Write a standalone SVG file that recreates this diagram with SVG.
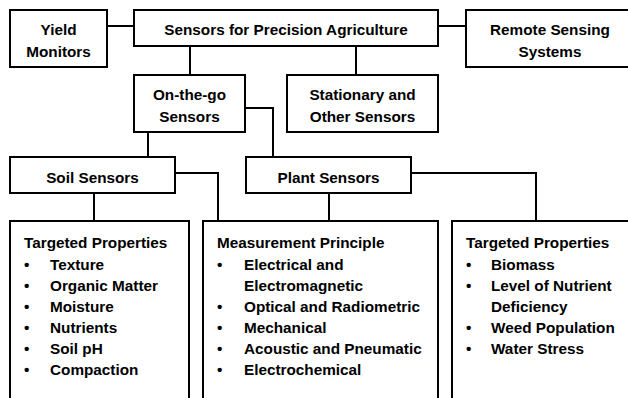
<svg xmlns="http://www.w3.org/2000/svg" width="628" height="398" viewBox="0 0 628 398">
<style>
rect{fill:#fff;stroke:#000;stroke-width:2}
.c{fill:none;stroke:#000;stroke-width:2}
text{font-family:"Liberation Sans",Arial,sans-serif;font-weight:bold;font-size:15.3px;fill:#000}
.m{text-anchor:middle}
</style>
<rect x="0" y="0" width="628" height="398" style="stroke:none"/>
<g id="connectors">
<path class="c" d="M107 26H134M438 26H466M190 46V75M356 46V75M245 108H273V157M148 132V157M175 173H218V221M411 173H536V221M94 193V221M329 193V221"/>
</g>
<g id="yield"><rect x="10" y="10" width="97" height="57"/><text class="m" x="58.5" y="35">Yield</text><text class="m" x="58.5" y="57">Monitors</text></g>
<g id="main"><rect x="134" y="10" width="304" height="36"/><text class="m" x="286" y="35">Sensors for Precision Agriculture</text></g>
<g id="remote"><rect x="466" y="10" width="170" height="57"/><text class="m" x="550" y="35">Remote Sensing</text><text class="m" x="550" y="57">Systems</text></g>
<g id="onthego"><rect x="134" y="75" width="111" height="57"/><text class="m" x="189.5" y="100">On-the-go</text><text class="m" x="189.5" y="122">Sensors</text></g>
<g id="stationary"><rect x="287" y="75" width="151" height="57"/><text class="m" x="362.5" y="100">Stationary and</text><text class="m" x="362.5" y="122">Other Sensors</text></g>
<g id="soil"><rect x="10" y="157" width="165" height="36"/><text class="m" x="92.5" y="183">Soil Sensors</text></g>
<g id="plant"><rect x="246" y="157" width="165" height="36"/><text class="m" x="328.5" y="183">Plant Sensors</text></g>
<g id="soilprops"><rect x="10" y="221" width="179" height="190"/>
<text x="24" y="248">Targeted Properties</text>
<text x="24" y="270">•</text><text x="50" y="270">Texture</text>
<text x="24" y="291">•</text><text x="50" y="291">Organic Matter</text>
<text x="24" y="312">•</text><text x="50" y="312">Moisture</text>
<text x="24" y="333">•</text><text x="50" y="333">Nutrients</text>
<text x="24" y="354">•</text><text x="50" y="354">Soil pH</text>
<text x="24" y="375">•</text><text x="50" y="375">Compaction</text>
</g>
<g id="measurement"><rect x="203" y="221" width="235" height="190"/>
<text x="217" y="248">Measurement Principle</text>
<text x="217" y="270">•</text><text x="244" y="270">Electrical and</text>
<text x="244" y="291">Electromagnetic</text>
<text x="217" y="312">•</text><text x="244" y="312">Optical and Radiometric</text>
<text x="217" y="333">•</text><text x="244" y="333">Mechanical</text>
<text x="217" y="354">•</text><text x="244" y="354">Acoustic and Pneumatic</text>
<text x="217" y="375">•</text><text x="244" y="375">Electrochemical</text>
</g>
<g id="plantprops"><rect x="452" y="221" width="190" height="190"/>
<text x="466" y="248">Targeted Properties</text>
<text x="466" y="270">•</text><text x="491" y="270">Biomass</text>
<text x="466" y="291">•</text><text x="491" y="291">Level of Nutrient</text>
<text x="491" y="312">Deficiency</text>
<text x="466" y="333">•</text><text x="491" y="333">Weed Population</text>
<text x="466" y="354">•</text><text x="491" y="354">Water Stress</text>
</g>
</svg>
